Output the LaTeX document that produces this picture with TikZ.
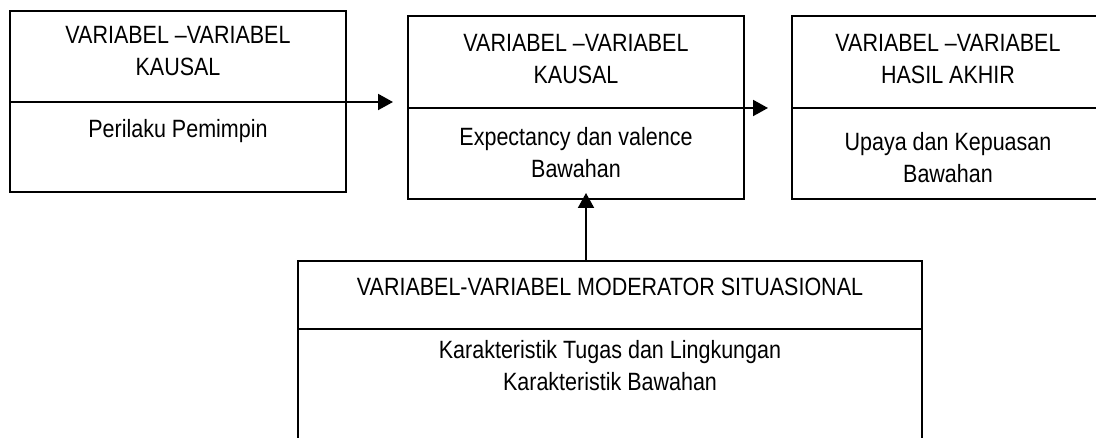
\documentclass[tikz,border=0pt]{standalone}
\usepackage{fontspec}
\setmainfont{Liberation Sans}
\newfontfamily\narrowsans{Liberation Sans}[FakeStretch=0.86]
\usetikzlibrary{arrows.meta}
\begin{document}
\begin{tikzpicture}[x=1pt,y=-1pt,
  boxframe/.style={draw=black,line width=2pt,inner sep=0pt,outer sep=0pt},
  divline/.style={draw=black,line width=2pt},
  arr/.style={draw=black,line width=2pt,-{Triangle[length=15pt,width=16pt]}},
  lbl/.style={align=center,inner sep=0pt,font=\narrowsans\fontsize{25}{32}\selectfont}
]
\useasboundingbox (0,0) rectangle (1096,438);
% boxes
\node[boxframe,minimum width=336pt,minimum height=181pt] (b1) at (178,101.5) {};
\node[boxframe,minimum width=336pt,minimum height=183pt] (b2) at (576,107.5) {};
\node[boxframe,minimum width=312pt,minimum height=183pt] (b3) at (948,107.5) {};
\node[boxframe,minimum width=624pt,minimum height=200pt] (b4) at (610,361) {};
% dividers / arrows
\coordinate (d1s) at (10,102);
\coordinate (d1e) at (393,102);
\coordinate (d2s) at (408,108);
\coordinate (d2e) at (768,108);
\coordinate (d3s) at (792,108);
\coordinate (d3e) at (1104,108);
\coordinate (d4s) at (298,329);
\coordinate (d4e) at (922,329);
\coordinate (upend) at (586,193);
\path[arr] (d1s) -- (d1e);
\path[arr] (d2s) -- (d2e);
\path[divline] (d3s) -- (d3e);
\path[divline,line width=1.6pt] (d4s) -- (d4e);
\path[arr] (b4.north -| upend) -- (upend);
% labels
\node[lbl] (t1) at (178,51) {VARIABEL –VARIABEL\\KAUSAL};
\node[lbl] (c1) at (178,131) {Perilaku Pemimpin};
\node[lbl] (t2) at (576,59) {VARIABEL –VARIABEL\\KAUSAL};
\node[lbl] (c2) at (576,153) {Expectancy dan valence\\Bawahan};
\node[lbl] (t3) at (948,59) {VARIABEL –VARIABEL\\HASIL AKHIR};
\node[lbl] (c3) at (948,158) {Upaya dan Kepuasan\\Bawahan};
\node[lbl] (t4) at (610,287) {VARIABEL-VARIABEL MODERATOR SITUASIONAL};
\node[lbl] (c4) at (610,366) {Karakteristik Tugas dan Lingkungan\\Karakteristik Bawahan};
\end{tikzpicture}
\end{document}
